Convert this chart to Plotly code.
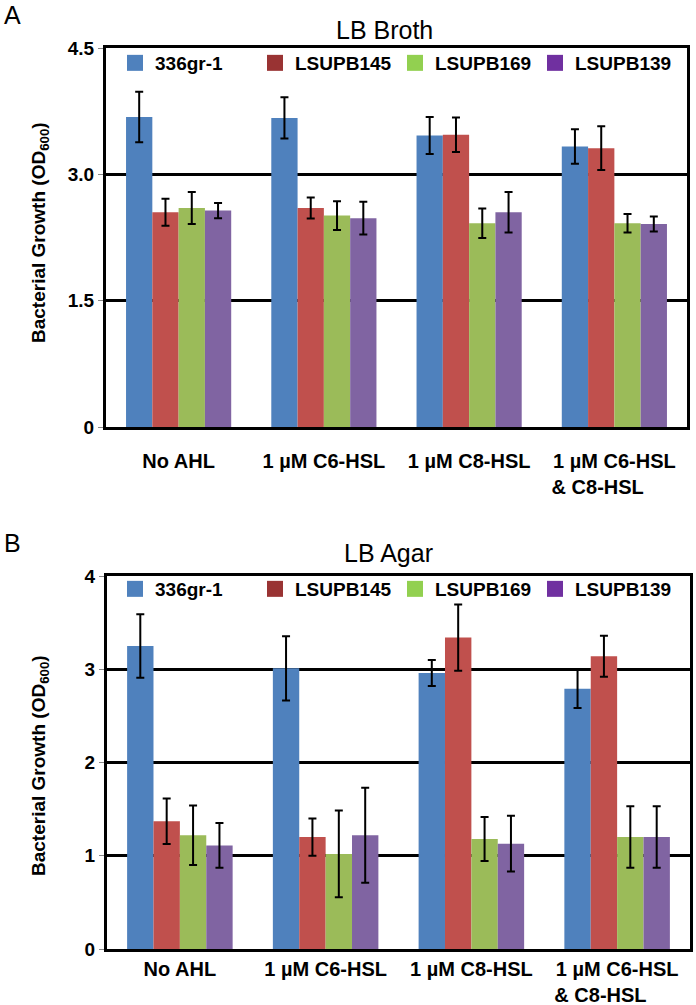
import plotly.graph_objects as go

categories = ["No AHL", "1 µM C6-HSL", "1 µM C8-HSL", "1 µM C6-HSL<br>& C8-HSL" + "\u00a0" * 6]
strains = ["336gr-1", "LSUPB145", "LSUPB169", "LSUPB139"]

# Panel A: LB Broth
broth_vals = {
    "336gr-1":  [3.68, 3.67, 3.46, 3.33],
    "LSUPB145": [2.55, 2.60, 3.47, 3.31],
    "LSUPB169": [2.60, 2.51, 2.42, 2.42],
    "LSUPB139": [2.57, 2.48, 2.55, 2.41],
}
broth_err = {
    "336gr-1":  [0.30, 0.245, 0.22, 0.205],
    "LSUPB145": [0.16, 0.125, 0.205, 0.26],
    "LSUPB169": [0.19, 0.17, 0.175, 0.11],
    "LSUPB139": [0.09, 0.195, 0.24, 0.09],
}

# Panel B: LB Agar
agar_vals = {
    "336gr-1":  [3.25, 3.01, 2.96, 2.79],
    "LSUPB145": [1.37, 1.20, 3.34, 3.14],
    "LSUPB169": [1.22, 1.02, 1.18, 1.20],
    "LSUPB139": [1.11, 1.22, 1.13, 1.20],
}
agar_err = {
    "336gr-1":  [0.34, 0.345, 0.14, 0.205],
    "LSUPB145": [0.245, 0.20, 0.355, 0.22],
    "LSUPB169": [0.32, 0.465, 0.235, 0.33],
    "LSUPB139": [0.24, 0.51, 0.30, 0.33],
}

broth_ticks = [0, 1.5, 3.0, 4.5]
broth_ticktext = ["0", "1.5", "3.0", "4.5"]
agar_ticks = [0, 1, 2, 3, 4]
agar_ticktext = ["0", "1", "2", "3", "4"]

bar_colors = ["#4F81BD", "#C0504D", "#9BBB59", "#8064A2"]
legend_colors = ["#4F81BD", "#993333", "#92D050", "#7030A0"]

W, H = 696, 1005
FONT = "Liberation Sans, Arial, sans-serif"

def px_x(p):
    return p / W

def px_y(p):
    return 1 - p / H

fig = go.Figure()

for i, s in enumerate(strains):
    fig.add_trace(go.Bar(
        x=categories, y=broth_vals[s], name=s, marker_color=bar_colors[i],
        marker_line_width=0, showlegend=False, xaxis="x", yaxis="y",
        error_y=dict(type="data", array=broth_err[s], color="black", thickness=2, width=4),
    ))
    fig.add_trace(go.Bar(
        x=categories, y=agar_vals[s], name=s, marker_color=bar_colors[i],
        marker_line_width=0, showlegend=False, xaxis="x2", yaxis="y2",
        error_y=dict(type="data", array=agar_err[s], color="black", thickness=2, width=4),
    ))
# legend entries (swatch colours differ from bar fills in the original)
for i, s in enumerate(strains):
    for ax, ay, lg in (("x", "y", "legend"), ("x2", "y2", "legend2")):
        fig.add_trace(go.Scatter(
            x=[None], y=[None], mode="markers", name=s,
            marker=dict(symbol="square", size=17, color=legend_colors[i], line_width=0),
            xaxis=ax, yaxis=ay, legend=lg, hoverinfo="skip"))

axis_common = dict(showline=True, linecolor="black", linewidth=3, mirror=True, automargin=False)
tickfont_y = dict(family=FONT, size=19, color="black", weight="bold")
tickfont_x = dict(family=FONT, size=20, color="black", weight="bold")

legend_common = dict(
    orientation="h", xanchor="left", yanchor="middle",
    font=dict(family=FONT, size=19, color="black", weight="bold"),
    entrywidth=95, entrywidthmode="pixels", bgcolor="rgba(0,0,0,0)",
    itemclick=False, itemdoubleclick=False,
)

fig.update_layout(
    width=W, height=H,
    margin=dict(l=0, r=0, t=0, b=0, autoexpand=False),
    paper_bgcolor="white", plot_bgcolor="white",
    barmode="group", bargap=0.276, bargroupgap=0,
    showlegend=True,
    xaxis=dict(domain=[px_x(106), px_x(687)], anchor="y", type="category",
               tickfont=tickfont_x, ticks="", ticklabelstandoff=14, **axis_common),
    yaxis=dict(domain=[px_y(427), px_y(48)], anchor="x", range=[0, 4.5],
               tickvals=broth_ticks, ticktext=broth_ticktext, tickfont=tickfont_y,
               ticks="outside", ticklen=5, tickcolor="#888", tickwidth=1,
               showgrid=True, gridcolor="black", gridwidth=2.5, zeroline=False,
               **axis_common),
    xaxis2=dict(domain=[px_x(107), px_x(690)], anchor="y2", type="category",
                tickfont=tickfont_x, ticks="", ticklabelstandoff=0, **axis_common),
    yaxis2=dict(domain=[px_y(949), px_y(576)], anchor="x2", range=[0, 4],
                tickvals=agar_ticks, ticktext=agar_ticktext, tickfont=tickfont_y,
                ticks="outside", ticklen=5, tickcolor="#888", tickwidth=1,
                showgrid=True, gridcolor="black", gridwidth=2.5, zeroline=False,
                **axis_common),
    legend=dict(x=px_x(115), y=px_y(63), **legend_common),
    legend2=dict(x=px_x(115), y=px_y(589), **legend_common),
)

ytitle = "Bacterial Growth (OD<sub>600</sub>)"
ann_font_b = dict(family=FONT, size=19, color="black", weight="bold")
fig.add_annotation(text=ytitle, x=px_x(40), y=px_y(233), xref="paper", yref="paper",
                   textangle=-90, showarrow=False, font=ann_font_b, xanchor="center", yanchor="middle")
fig.add_annotation(text=ytitle, x=px_x(40), y=px_y(766), xref="paper", yref="paper",
                   textangle=-90, showarrow=False, font=ann_font_b, xanchor="center", yanchor="middle")
title_font = dict(family=FONT, size=25, color="black")
fig.add_annotation(text="LB Broth", x=px_x(384), y=px_y(30), xref="paper", yref="paper",
                   showarrow=False, font=title_font, xanchor="center", yanchor="middle")
fig.add_annotation(text="LB Agar", x=px_x(388), y=px_y(553), xref="paper", yref="paper",
                   showarrow=False, font=title_font, xanchor="center", yanchor="middle")
panel_font = dict(family=FONT, size=25, color="black")
fig.add_annotation(text="A", x=px_x(12.5), y=px_y(15), xref="paper", yref="paper",
                   showarrow=False, font=panel_font, xanchor="center", yanchor="middle")
fig.add_annotation(text="B", x=px_x(12.5), y=px_y(543), xref="paper", yref="paper",
                   showarrow=False, font=panel_font, xanchor="center", yanchor="middle")

fig.write_html("out.html", config={"displayModeBar": False},
               post_script="document.body.style.margin='0';document.body.style.overflow='hidden';")
